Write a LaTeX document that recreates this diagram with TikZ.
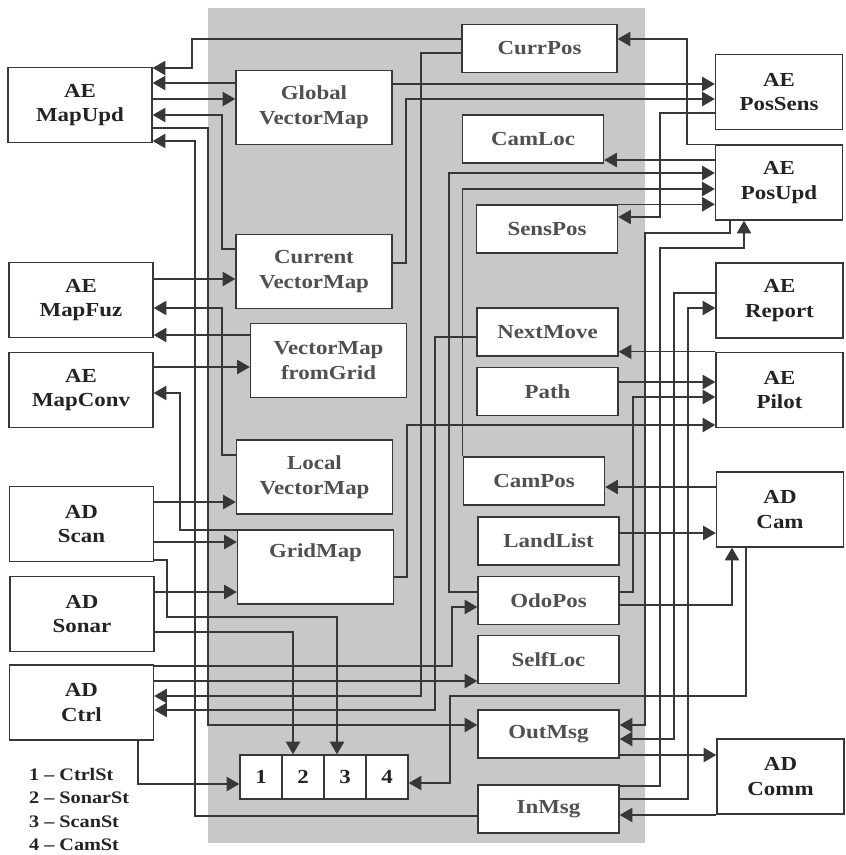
\documentclass[tikz,border=0pt]{standalone}
\usepackage{fontspec}
\setmainfont{Liberation Serif}[FakeStretch=1.15]
\usepackage{tikz}
\usetikzlibrary{arrows.meta,positioning}
\definecolor{linegray}{RGB}{55,55,55}
\definecolor{txtdark}{RGB}{35,35,35}
\definecolor{txtgray}{RGB}{80,80,80}
\definecolor{panelgray}{RGB}{200,200,200}
\newcommand{\blkfont}{\fontsize{17}{21}\selectfont\bfseries}
\newcommand{\legfont}{\fontsize{15}{18}\selectfont\bfseries}
\tikzset{
  agent/.style={draw=linegray,line width=1.2pt,fill=white,align=center,text=txtdark,
    font=\blkfont,minimum width=#1,minimum height=22.5mm},
  datbig/.style={draw=linegray,line width=1.2pt,fill=white,align=center,text=txtgray,
    font=\blkfont,minimum width=46.8mm,minimum height=22.2mm},
  datsmall/.style={draw=linegray,line width=1.2pt,fill=white,align=center,text=txtgray,
    font=\blkfont,minimum width=#1,minimum height=14.4mm},
  datsmall/.default=42.3mm,
  stcell/.style={draw=linegray,line width=1.2pt,fill=white,text=txtdark,
    font=\blkfont,minimum width=12.6mm,minimum height=13.2mm},
  legend/.style={anchor=west,text=txtdark,font=\legfont},
}

\begin{document}
\begin{tikzpicture}[
    x=0.3mm,y=-0.3mm,
    wire/.style={draw=linegray,line width=1.1pt},
    arrow/.style={wire,-{Triangle[length=3.8mm,width=4.3mm]}},
  ]
  \fill[white] (0,0) rectangle (845,855);
  \useasboundingbox (0,0) rectangle (845,855);
  % shared memory panel
  \fill[panelgray] (208,8) rectangle (645,843);

  % agents, left
  \node[agent=43.2mm] (mapupd) at (80,105) {AE\\MapUpd};
  \node[agent=43.2mm] (mapfuz) at (81,300) {AE\\MapFuz};
  \node[agent=43.2mm] (mapconv) at (81,390) {AE\\MapConv};
  \node[agent=43.2mm] (scan) at (81.5,524) {AD\\Scan};
  \node[agent=43.2mm] (sonar) at (82,614) {AD\\Sonar};
  \node[agent=43.2mm] (ctrl) at (81.5,702.5) {AD\\Ctrl};
  % agents, right
  \node[agent=38.1mm] (possens) at (779,92) {AE\\PosSens};
  \node[agent=38.1mm] (posupd) at (779,182.5) {AE\\PosUpd};
  \node[agent=38.1mm] (report) at (779.5,300.5) {AE\\Report};
  \node[agent=38.1mm] (pilot) at (779.5,390) {AE\\Pilot};
  \node[agent=38.1mm] (adcam) at (780,509.5) {AD\\Cam};
  \node[agent=38.1mm] (adcomm) at (780.5,776.5) {AD\\Comm};

  % maps
  \node[datbig] (global) at (314,107.5) {Global\\VectorMap};
  \node[datbig] (current) at (314,271.5) {Current\\VectorMap};
  \node[datbig] (fromgrid) at (328.5,360.5) {VectorMap\\fromGrid};
  \node[datbig] (local) at (314.5,477) {Local\\VectorMap};
  \node[datbig] (gridmap) at (315.5,567) {GridMap\\\strut};
  % data items
  \node[datsmall=46.5mm] (currpos) at (539.5,48.5) {CurrPos};
  \node[datsmall] (camloc) at (533,139) {CamLoc};
  \node[datsmall] (senspos) at (547,229) {SensPos};
  \node[datsmall] (nextmove) at (547.5,332) {NextMove};
  \node[datsmall] (pth) at (547.5,391.5) {Path};
  \node[datsmall] (campos) at (534,481) {CamPos};
  \node[datsmall] (landlist) at (548.5,541) {LandList};
  \node[datsmall] (odopos) at (548.5,600.5) {OdoPos};
  \node[datsmall] (selfloc) at (548.5,659.5) {SelfLoc};
  \node[datsmall] (outmsg) at (548.5,734) {OutMsg};
  \node[datsmall] (inmsg) at (548.5,809) {InMsg};
  % state cells
  \node[stcell] (c1) at (261,777) {1};
  \node[stcell] (c2) at (303,777) {2};
  \node[stcell] (c3) at (345,777) {3};
  \node[stcell] (c4) at (387,777) {4};
  % legend
  \node[legend] (l1) at (25,774) {1 – CtrlSt};
  \node[legend] (l2) at (25,798) {2 – SonarSt};
  \node[legend] (l3) at (25,822) {3 – ScanSt};
  \node[legend] (l4) at (25,845) {4 – CamSt};

  % map links
  \draw[arrow] (currpos.west |- 0,39) -| (192,68) -- (mapupd.east |- 0,68);
  \draw[arrow] (global.west |- 0,83) -- (mapupd.east |- 0,83);
  \draw[arrow] (mapupd.east |- 0,99) -- (global.west |- 0,99);
  \draw[arrow] (current.west |- 0,249) -| (222,115) -- (mapupd.east |- 0,115);
  \draw[arrow] (mapupd.east |- 0,128) -| (208,725) -- (outmsg.west |- 0,725);
  \draw[arrow] (inmsg.west |- 0,816) -| (195,141) -- (mapupd.east |- 0,141);
  \draw[arrow] (global.east |- 0,84) -- (possens.west |- 0,84);
  \draw[arrow] (current.east |- 0,263) -| (406,99) -- (possens.west |- 0,99);
  \draw[arrow] (mapfuz.east |- 0,279) -- (current.west |- 0,279);
  \draw[arrow] (local.west |- 0,455) -| (222,308) -- (mapfuz.east |- 0,308);
  \draw[arrow] (fromgrid.west |- 0,335) -- (mapfuz.east |- 0,335);
  \draw[arrow] (mapconv.east |- 0,367) -- (fromgrid.west |- 0,367);
  \draw[arrow] (gridmap.west |- 0,530) -| (180,393) -- (mapconv.east |- 0,393);
  \draw[arrow] (scan.east |- 0,502) -- (local.west |- 0,502);
  \draw[arrow] (scan.east |- 0,542) -- (gridmap.west |- 0,542);
  \draw[arrow] (sonar.east |- 0,592) -- (gridmap.west |- 0,592);
  % state links
  \draw[arrow] (scan.east |- 0,560) -| (167,617) -| (337,0 |- c3.north);
  \draw[arrow] (sonar.east |- 0,632) -| (293,0 |- c2.north);
  \draw[arrow] (138,0 |- ctrl.south) |- (c1.west |- 0,784);
  \draw[arrow] (746,0 |- adcam.south) |- (450,696) |- (c4.east |- 0,783);
  % ctrl links
  \draw[arrow] (ctrl.east |- 0,666) -| (452,607) -- (odopos.west |- 0,607);
  \draw[arrow] (ctrl.east |- 0,681) -- (selfloc.west |- 0,681);
  \draw[arrow] (currpos.west |- 0,53) -| (421,696) -- (ctrl.east |- 0,696);
  \draw[arrow] (nextmove.west |- 0,337) -| (435,710) -- (ctrl.east |- 0,710);
  % position links
  \draw[arrow] (odopos.west |- 0,592) -| (449,173) -- (posupd.west |- 0,173);
  \draw[arrow] (campos.north west) |- (posupd.west |- 0,189);
  \draw[arrow] (senspos.north west) -- (posupd.west |- senspos.north);
  \draw[arrow] (possens.west |- 0,113) -| (660,217) -- (senspos.east |- 0,217);
  \draw[arrow] (posupd.north west) -| (687,39) -- (currpos.east |- 0,39);
  \draw[arrow] (posupd.west |- 0,160) -- (camloc.east |- 0,160);
  \draw[arrow] (730,0 |- posupd.south) |- (645,233) |- (outmsg.east |- 0,725);
  \draw[arrow] (inmsg.east |- 0,786) -| (660,248) -| (744,0 |- posupd.south);
  \draw[arrow] (report.west |- 0,293) -| (674,739) -- (outmsg.east |- 0,739);
  \draw[arrow] (inmsg.east |- 0,799) -| (688,308) -- (report.west |- 0,308);
  \draw[arrow] (pilot.north west) -- (nextmove.east |- pilot.north);
  \draw[arrow] (pth.east |- 0,382) -- (pilot.west |- 0,382);
  \draw[arrow] (odopos.east |- 0,592) -| (633,397) -- (pilot.west |- 0,397);
  \draw[arrow] (gridmap.east |- 0,577) -| (407,425) -- (pilot.west |- 0,425);
  % camera and messages
  \draw[arrow] (adcam.west |- 0,487) -- (campos.east |- 0,487);
  \draw[arrow] (landlist.east |- 0,533) -- (adcam.west |- 0,533);
  \draw[arrow] (odopos.east |- 0,605) -| (732,0 |- adcam.south);
  \draw[arrow] (outmsg.east |- 0,755) -- (adcomm.west |- 0,755);
  \draw[arrow] (adcomm.west |- 0,815) -- (inmsg.east |- 0,815);
\end{tikzpicture}
\end{document}
